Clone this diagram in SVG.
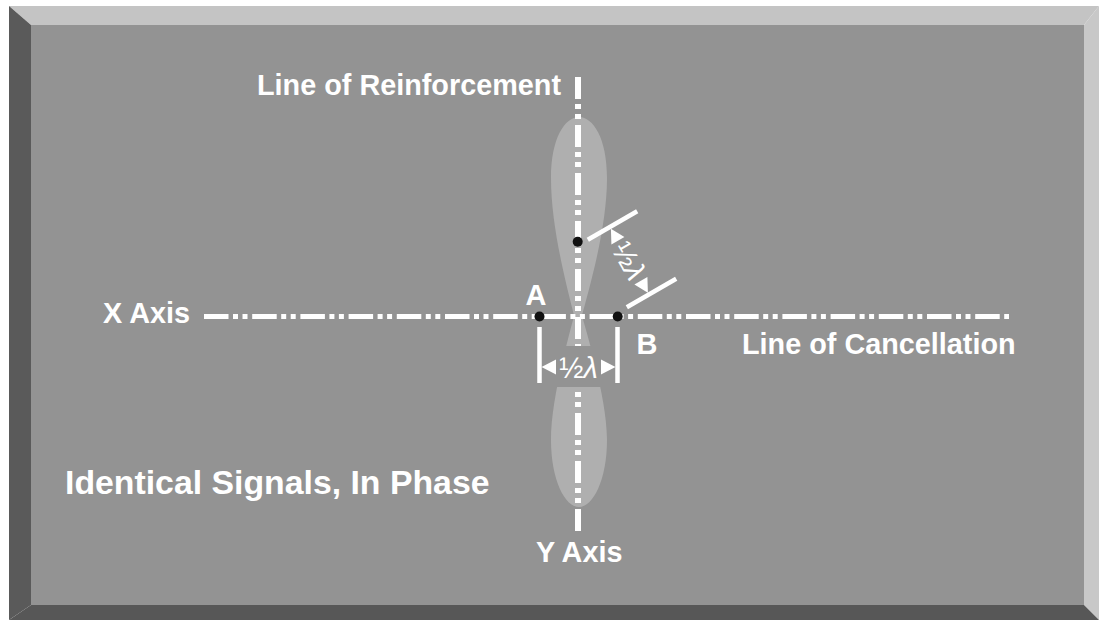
<svg xmlns="http://www.w3.org/2000/svg" width="1099" height="620" viewBox="0 0 1099 620">
<style>
.lbl{font-family:"Liberation Sans",Arial,sans-serif;font-weight:bold;fill:#ffffff;font-size:28.8px}
.big{font-size:33.8px}
.ab{font-size:29px}
.dim{font-family:"Liberation Sans",Arial,sans-serif;fill:#ffffff;font-size:29px}
.axis{stroke:#ffffff;fill:none;stroke-linecap:butt}
.tick{stroke:#ffffff;stroke-width:4.5;fill:none}
.lobe{fill:#afafaf}
.dot{fill:#111111}
.arr{fill:#ffffff}
</style>
<rect x="0" y="0" width="1099" height="620" fill="#ffffff"/>
<g id="frame">
<rect x="31" y="25" width="1053" height="580" fill="#939393"/>
<polygon points="9,6 1099,6 1084,25 31,25" fill="#c4c4c4"/>
<polygon points="1099,6 1099,620 1084,605 1084,25" fill="#c8c8c8"/>
<polygon points="9,620 1099,620 1084,605 31,605" fill="#575757"/>
<polygon points="9,6 31,25 31,605 9,620" fill="#5a5a5a"/>
</g>
<g id="lobes">
<path class="lobe" d="M578,331 C572,305 551,235 551,178 C551,138 565,117 579,117 C593,117 607,138 607,178 C607,235 584,305 578,331 Z"/>
<path class="lobe" d="M578,301 C584,325 607,395 607,440 C607,480 593,507 579,507 C565,507 551,480 551,440 C551,395 572,325 578,301 Z"/>
</g>
<g id="connectors">
<line id="y-axis" class="axis" x1="578" y1="77" x2="578" y2="533" stroke-width="6" stroke-dasharray="22 5 5 5 5 6"/>
<rect x="545" y="346" width="68" height="41" fill="#939393"/>
<line id="x-axis" class="axis" x1="204" y1="316.5" x2="1009" y2="316.5" stroke-width="5" stroke-dasharray="24.5 4.5 5 4.5 5 4.7"/>
<g id="dim-ab">
<line class="tick" x1="539.5" y1="327" x2="539.5" y2="383"/>
<line class="tick" x1="617.5" y1="327" x2="617.5" y2="383"/>
<polygon class="arr" points="541.5,367 556,359.5 556,374.5"/>
<polygon class="arr" points="615.5,367 601,359.5 601,374.5"/>
<text class="dim" x="578.5" y="377.5" text-anchor="middle">½<tspan font-style="italic">λ</tspan></text>
</g>
<g id="dim-diag" transform="translate(612.5,225.5) rotate(60)">
<line class="tick" x1="0" y1="-28.5" x2="0" y2="28.5"/>
<line class="tick" x1="78" y1="-28.5" x2="78" y2="28.5"/>
<polygon class="arr" points="2,3 16,-4.5 16,10.5"/>
<polygon class="arr" points="76,3 62,-4.5 62,10.5"/>
<text class="dim" x="39" y="13.5" text-anchor="middle">½<tspan font-style="italic">λ</tspan></text>
</g>
</g>
<g id="point-a"><circle class="dot" cx="539.5" cy="316.5" r="5"/><text class="lbl ab" x="536" y="305" text-anchor="middle">A</text></g>
<g id="point-b"><circle class="dot" cx="617.7" cy="316.5" r="5"/><text class="lbl ab" x="647" y="354" text-anchor="middle">B</text></g>
<g id="point-c"><circle class="dot" cx="577.7" cy="241.7" r="5"/></g>
<g id="labels">
<text id="lbl-reinf" class="lbl" x="257" y="95">Line of Reinforcement</text>
<text id="lbl-x" class="lbl" x="103" y="323">X Axis</text>
<text id="lbl-cancel" class="lbl" x="742" y="354">Line of Cancellation</text>
<text id="lbl-y" class="lbl" x="536" y="562">Y Axis</text>
<text id="lbl-signals" class="lbl big" x="65" y="494">Identical Signals, In Phase</text>
</g>
</svg>
